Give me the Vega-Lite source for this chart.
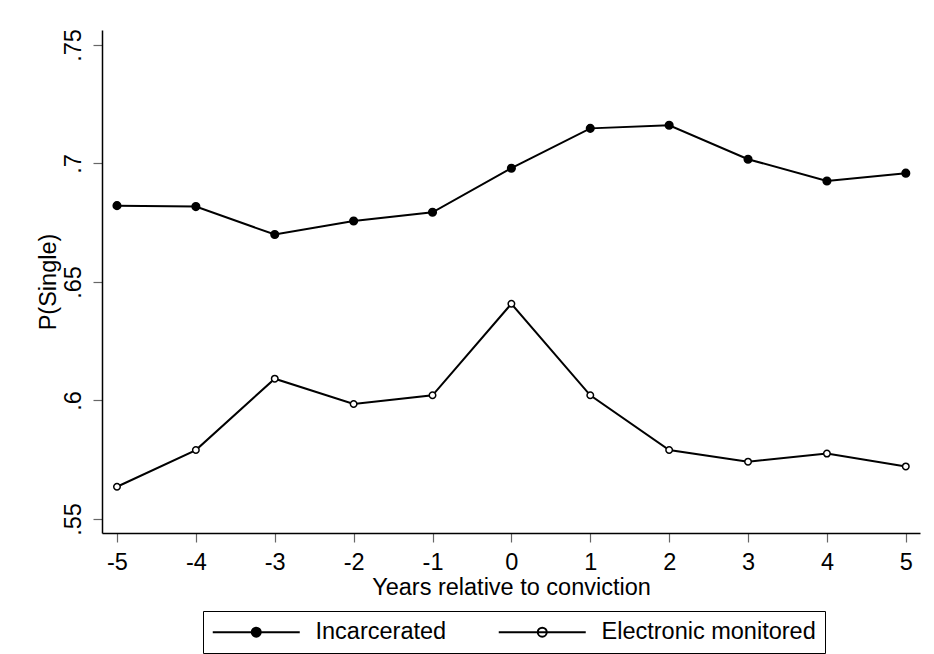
{
  "$schema": "https://vega.github.io/schema/vega-lite/v6.json",
  "width": 818,
  "height": 503,
  "autosize": "none",
  "padding": {"left": 102, "top": 30, "right": 14, "bottom": 121},
  "background": "white",
  "config": {
    "view": {"stroke": null},
    "font": "Liberation Sans",
    "axis": {
      "grid": false,
      "domainColor": "black",
      "domainWidth": 1.5,
      "tickColor": "#666666",
      "tickWidth": 1.2,
      "tickSize": 9,
      "labelFontSize": 23.5,
      "labelColor": "black",
      "titleFontSize": 23.5,
      "titleFontWeight": "normal",
      "titleColor": "black",
      "labelFont": "Liberation Sans",
      "titleFont": "Liberation Sans"
    }
  },
  "data": {
    "values": [
      {"series": "Incarcerated", "year": -5, "p": 0.6822},
      {"series": "Incarcerated", "year": -4, "p": 0.6818},
      {"series": "Incarcerated", "year": -3, "p": 0.6700},
      {"series": "Incarcerated", "year": -2, "p": 0.6757},
      {"series": "Incarcerated", "year": -1, "p": 0.6794},
      {"series": "Incarcerated", "year": 0, "p": 0.6980},
      {"series": "Incarcerated", "year": 1, "p": 0.7148},
      {"series": "Incarcerated", "year": 2, "p": 0.7161},
      {"series": "Incarcerated", "year": 3, "p": 0.7018},
      {"series": "Incarcerated", "year": 4, "p": 0.6926},
      {"series": "Incarcerated", "year": 5, "p": 0.6959},
      {"series": "Electronic monitored", "year": -5, "p": 0.5636},
      {"series": "Electronic monitored", "year": -4, "p": 0.5791},
      {"series": "Electronic monitored", "year": -3, "p": 0.6092},
      {"series": "Electronic monitored", "year": -2, "p": 0.5985},
      {"series": "Electronic monitored", "year": -1, "p": 0.6022},
      {"series": "Electronic monitored", "year": 0, "p": 0.6408},
      {"series": "Electronic monitored", "year": 1, "p": 0.6022},
      {"series": "Electronic monitored", "year": 2, "p": 0.5791},
      {"series": "Electronic monitored", "year": 3, "p": 0.5742},
      {"series": "Electronic monitored", "year": 4, "p": 0.5776},
      {"series": "Electronic monitored", "year": 5, "p": 0.5722}
    ]
  },
  "encoding": {
    "x": {
      "field": "year",
      "type": "quantitative",
      "scale": {"domain": [-5.19, 5.18], "nice": false, "zero": false},
      "axis": {
        "values": [-5, -4, -3, -2, -1, 0, 1, 2, 3, 4, 5],
        "labelExpr": "'' + datum.value",
        "title": "Years relative to conviction",
        "labelPadding": 8,
        "titlePadding": 2,
        "labelFlush": false
      }
    },
    "y": {
      "field": "p",
      "type": "quantitative",
      "scale": {"domain": [0.5441, 0.7563], "nice": false, "zero": false},
      "axis": {
        "values": [0.55, 0.6, 0.65, 0.7, 0.75],
        "labelExpr": "replace(format(datum.value, '.2~f'), /^0/, '')",
        "labelAngle": -90,
        "labelAlign": "center",
        "labelBaseline": "bottom",
        "labelPadding": 8,
        "labelFlush": false,
        "title": "P(Single)",
        "titlePadding": 1
      }
    }
  },
  "layer": [
    {
      "mark": {"type": "line", "color": "black", "strokeWidth": 2},
      "encoding": {"detail": {"field": "series", "type": "nominal"}}
    },
    {
      "mark": {"type": "point", "filled": true, "stroke": "black", "strokeWidth": 1.5, "opacity": 1},
      "encoding": {
        "size": {"condition": {"test": "datum.series === 'Incarcerated'", "value": 58}, "value": 42},
        "fill": {
          "field": "series",
          "type": "nominal",
          "scale": {"domain": ["Incarcerated", "Electronic monitored"], "range": ["black", "white"]},
          "legend": {
            "orient": "none",
            "legendX": 101,
            "legendY": 581,
            "direction": "horizontal",
            "title": null,
            "symbolType": "M-1.1,0L7.6,0M3.7,0A0.45,0.45,0,1,1,2.8,0A0.45,0.45,0,1,1,3.7,0",
            "symbolSize": 400,
            "symbolStrokeColor": "black",
            "symbolStrokeWidth": 2,
            "symbolOpacity": 1,
            "labelFontSize": 23.5,
            "labelFont": "Liberation Sans",
            "labelColor": "black",
            "labelOffset": 80,
            "columnPadding": 47,
            "padding": 9,
            "strokeColor": "black",
            "labelLimit": 400
          }
        }
      }
    }
  ]
}
